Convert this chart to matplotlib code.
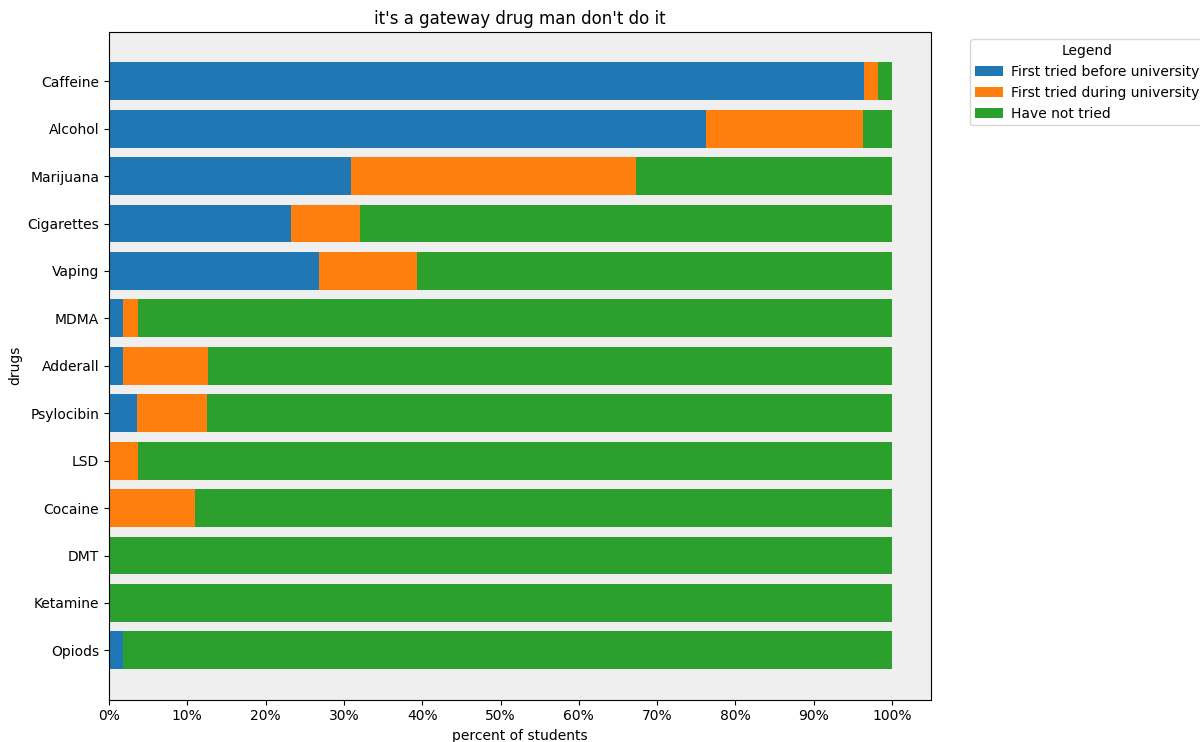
import matplotlib
matplotlib.use("Agg")
import matplotlib.pyplot as plt
import numpy as np
from matplotlib.ticker import PercentFormatter

# values, in percent of students
drugs = ["Caffeine", "Alcohol", "Marijuana", "Cigarettes", "Vaping", "MDMA",
         "Adderall", "Psylocibin", "LSD", "Cocaine", "DMT", "Ketamine", "Opiods"]
before_uni = [96.4, 76.3, 30.9, 23.2, 26.8, 1.8, 1.8, 3.6, 0.0, 0.0, 0.0, 0.0, 1.8]
during_uni = [1.8, 20.0, 36.4, 8.9, 12.5, 1.9, 10.9, 8.9, 3.7, 11.0, 0.0, 0.0, 0.0]
not_tried = [100 - b - d for b, d in zip(before_uni, during_uni)]

labels = ["First tried before university", "First tried during university", "Have not tried"]
colors = ["#1f77b4", "#ff7f0e", "#2ca02c"]

fig, ax = plt.subplots(figsize=(12, 7.42), dpi=100)
fig.subplots_adjust(left=0.0908, right=0.776, top=0.957, bottom=0.057)
ax.set_facecolor("#efefef")

y = np.arange(len(drugs))
left = np.zeros(len(drugs))
for vals, lab, col in zip([before_uni, during_uni, not_tried], labels, colors):
    ax.barh(y, vals, left=left, height=0.8, color=col, label=lab)
    left += np.array(vals)

ax.set_yticks(y)
ax.set_yticklabels(drugs)
ax.invert_yaxis()
ax.set_xticks(np.arange(0, 101, 10))
ax.xaxis.set_major_formatter(PercentFormatter(100, decimals=0))

ax.set_title("it's a gateway drug man don't do it", fontsize=12)
ax.set_xlabel("percent of students")
ax.set_ylabel("drugs")
ax.legend(title="Legend", bbox_to_anchor=(1.039, 1), loc="upper left",
          borderaxespad=0.5, handletextpad=0.6, borderpad=0.35)

plt.savefig("out.png", dpi=100)
